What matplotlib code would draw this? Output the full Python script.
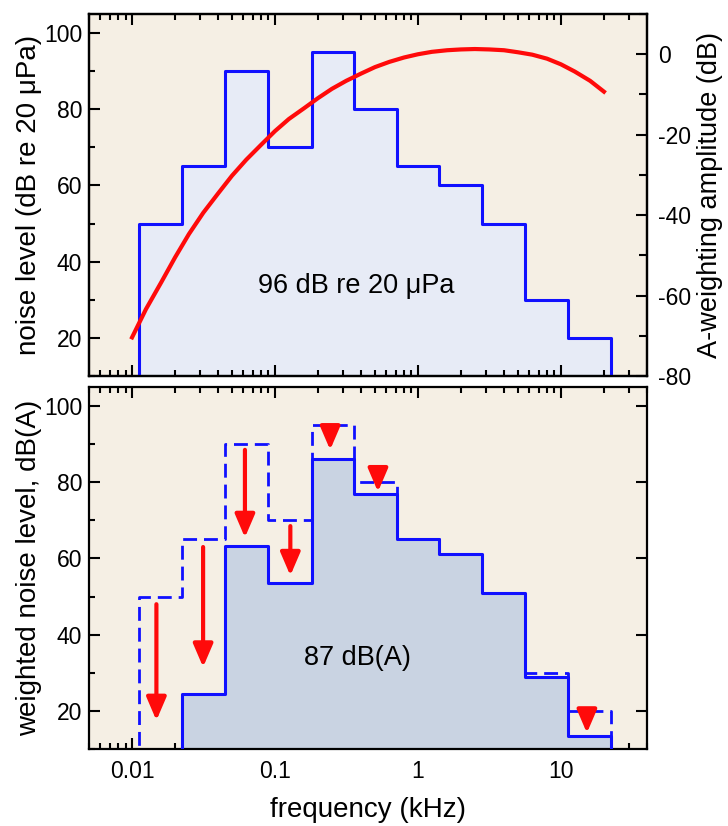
import numpy as np
import matplotlib
matplotlib.use('Agg')
from matplotlib import pyplot as plt
from matplotlib.ticker import LogLocator, MultipleLocator, FixedLocator, NullFormatter

plt.rcParams['font.family'] = ['Liberation Sans', 'DejaVu Sans']
plt.rcParams['axes.unicode_minus'] = False

# octave band edges (kHz) and band centres
band_edges = [0.0112, 0.0224, 0.045, 0.09, 0.18, 0.355, 0.71, 1.4, 2.8, 5.6, 11.2, 22.4]
band_centres = [0.016, 0.0315, 0.063, 0.125, 0.25, 0.5, 1.0, 2.0, 4.0, 8.0, 16.0]

# unweighted noise spectrum, dB re 20 uPa
noise_level = [50, 65, 90, 70, 95, 80, 65, 60, 50, 30, 20]
# A-weighted spectrum, dB(A)
weighted_level = [-7, 24.5, 63.2, 53.5, 86, 76.8, 65.2, 61.2, 51, 29, 13.4]

# A-weighting curve (third-octave values)
aw_freq = [0.01, 0.0125, 0.016, 0.02, 0.025, 0.0315, 0.04, 0.05, 0.063, 0.08,
           0.1, 0.125, 0.16, 0.2, 0.25, 0.315, 0.4, 0.5, 0.63, 0.8,
           1.0, 1.25, 1.6, 2.0, 2.5, 3.15, 4.0, 5.0, 6.3, 8.0,
           10.0, 12.5, 16.0, 20.0]
aw_gain = [-70.4, -63.4, -56.7, -50.5, -44.7, -39.4, -34.6, -30.2, -26.2, -22.5,
           -19.1, -16.1, -13.4, -10.9, -8.6, -6.6, -4.8, -3.2, -1.9, -0.8,
           0.0, 0.6, 1.0, 1.2, 1.3, 1.2, 1.0, 0.5, -0.1, -1.1,
           -2.5, -4.3, -6.6, -9.3]

# arrows showing the level drop in each band (x, start, end)
arrow_x = [0.0148, 0.0314, 0.0616, 0.128, 0.243, 0.525, 15.2]
arrow_from = [48, 63, 88.5, 68.5, 94.5, 80.5, 19.5]
arrow_to = [17.5, 31.5, 65.5, 55.5, 88.5, 77.5, 14.2]

axis_bg = '#f5efe4'
blue = '#1010ff'
red = '#ff0a0a'


def step_xy(edges, levels, floor=0):
    xs, ys = [edges[0]], [floor]
    for i, lv in enumerate(levels):
        xs += [edges[i], edges[i + 1]]
        ys += [lv, lv]
    xs.append(edges[-1])
    ys.append(floor)
    return xs, ys


def style_axes(ax):
    ax.set_facecolor(axis_bg)
    ax.set_xscale('log')
    ax.set_xlim(0.005, 40)
    ax.set_ylim(10, 105)
    ax.xaxis.set_major_locator(FixedLocator([0.01, 0.1, 1, 10]))
    ax.xaxis.set_minor_locator(LogLocator(base=10, subs=np.arange(2, 10), numticks=20))
    ax.xaxis.set_minor_formatter(NullFormatter())
    ax.yaxis.set_major_locator(MultipleLocator(20))
    ax.yaxis.set_minor_locator(MultipleLocator(10))
    ax.tick_params(which='both', direction='in', top=True, width=1.5, labelsize=16.5)
    ax.tick_params(which='major', length=8, pad=5)
    ax.tick_params(which='minor', length=4.5)
    for s in ax.spines.values():
        s.set_linewidth(1.6)


fig = plt.figure(figsize=(7.28, 8.26), dpi=100)
ax1 = fig.add_axes([0.1223, 0.5448, 0.7664, 0.4382])
ax2 = fig.add_axes([0.1223, 0.0932, 0.7664, 0.4383])

# top panel: raw spectrum plus A-weighting curve
style_axes(ax1)
ax1.tick_params(axis='x', labelbottom=False)
ax1.tick_params(axis='y', right=False)
xs, ys = step_xy(band_edges, noise_level)
ax1.fill(xs, ys, color='#e7ebf6', zorder=1)
ax1.plot(xs, ys, color=blue, lw=2.2, zorder=3)
ax1.text(0.37, 33.5, '96 dB re 20 μPa', fontsize=19.5, ha='center', va='center')
ax1.set_ylabel('noise level (dB re 20 μPa)', fontsize=20, labelpad=1)

ax1r = ax1.twinx()
ax1r.set_ylim(-80, 10)
ax1r.yaxis.set_major_locator(MultipleLocator(20))
ax1r.yaxis.set_minor_locator(MultipleLocator(10))
ax1r.tick_params(which='both', direction='in', width=1.5, labelsize=16.5)
ax1r.tick_params(which='major', length=8, pad=8)
ax1r.tick_params(which='minor', length=6)
ax1r.plot(aw_freq, aw_gain, color=red, lw=3, zorder=4)
ax1r.set_ylabel('A-weighting amplitude (dB)', fontsize=19.5, labelpad=4)
for s in ax1r.spines.values():
    s.set_linewidth(1.6)

# bottom panel: weighted spectrum, original shown dashed
style_axes(ax2)
ax2.tick_params(axis='y', right=True)
xo, yo = step_xy(band_edges, noise_level)
ax2.plot(xo, yo, color=blue, lw=2, ls=(0, (5, 2.5)), zorder=1)
xw, yw = step_xy(band_edges, weighted_level)
ax2.fill(xw, yw, color='#c9d3e2', zorder=2)
ax2.plot(xw, yw, color=blue, lw=2.2, zorder=3)
for x, y0, y1 in zip(arrow_x, arrow_from, arrow_to):
    ax2.annotate('', xy=(x, y1), xytext=(x, y0),
                 arrowprops=dict(arrowstyle='-|>,head_length=1.4,head_width=0.6',
                                 color=red, lw=3, shrinkA=0, shrinkB=0),
                 zorder=5)
ax2.text(0.38, 34, '87 dB(A)', fontsize=19.5, ha='center', va='center', zorder=6)
ax2.set_ylabel('weighted noise level, dB(A)', fontsize=20, labelpad=1)
ax2.set_xlabel('frequency (kHz)', fontsize=20, labelpad=10)
ax2.tick_params(axis='x', pad=8)
ax2.set_xticklabels(['0.01', '0.1', '1', '10'])

fig.savefig('out.png', dpi=100)
